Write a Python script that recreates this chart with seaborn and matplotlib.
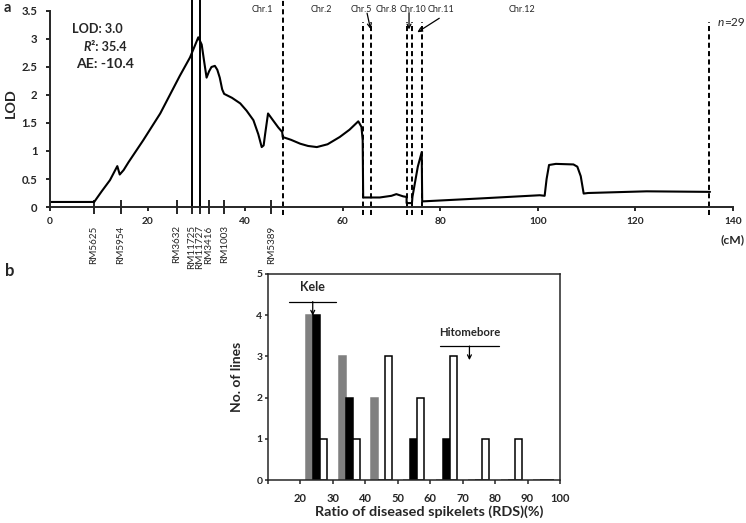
import numpy as np
import pandas as pd
import matplotlib
matplotlib.use("Agg")
import matplotlib.pyplot as plt
import seaborn as sns

# ---------------- Panel a data ----------------
lod_pos = [0, 9.06, 10.6, 12.3, 13.8, 14.3, 15.1, 16.1, 19.1, 22.6, 26.6, 28.7, 29.7, 30.4,
           31.1, 31.6, 32.1, 32.6, 33.1, 33.8, 34.3, 34.8, 35.3, 35.7, 37.3, 39.0, 40.3, 41.7,
           42.7, 43.4, 43.8, 44.1, 44.7, 45.7, 46.8, 47.6, 47.7, 49.4, 51.3, 52.9, 54.7, 56.9,
           59.4, 61.4, 63.2, 63.85, 64.1, 64.2, 67.6, 70.0, 71.0, 72.4, 73.1, 73.1, 74.2, 74.3,
           75.4, 76.2, 76.3, 87.6, 100.4, 101.4, 101.8, 102.3, 103.7, 107.3, 108.1, 108.8,
           109.4, 110.3, 122.3, 135.3]
lod_val = [0.09, 0.09, 0.28, 0.48, 0.73, 0.58, 0.66, 0.80, 1.19, 1.67, 2.34, 2.67, 2.88, 3.03,
           2.90, 2.60, 2.31, 2.42, 2.50, 2.52, 2.45, 2.31, 2.10, 2.02, 1.95, 1.85, 1.72, 1.55,
           1.30, 1.07, 1.10, 1.30, 1.67, 1.55, 1.42, 1.34, 1.25, 1.20, 1.13, 1.09, 1.07, 1.12,
           1.25, 1.38, 1.53, 1.43, 1.19, 0.17, 0.17, 0.20, 0.23, 0.19, 0.18, 0.07, 0.07, 0.18,
           0.72, 0.98, 0.10, 0.15, 0.21, 0.20, 0.50, 0.75, 0.77, 0.76, 0.72, 0.55,
           0.24, 0.25, 0.28, 0.27]

marker_names = ["RM5625", "RM5954", "RM3632", "RM11725", "RM11727", "RM3416", "RM1003", "RM5389"]
marker_pos = [9.0, 14.5, 26.0, 29.1, 30.7, 32.6, 35.7, 45.4]
flank_markers = ["RM11725", "RM11727"]

chr_bounds = [47.7, 64.1, 65.9, 73.1, 74.2, 76.3, 135.1]
chr_names = ["Chr.1", "Chr.2", "Chr.5", "Chr.8", "Chr.10", "Chr.11", "Chr.12"]
chr_label_pos = [43.6, 55.7, 63.9, 68.9, 74.4, 80.1, 96.7]

qtl_lod = 3.0
qtl_r2 = 35.4
qtl_ae = -10.4
n_lines = 29

# ---------------- Panel b data ----------------
rds_class = [20, 30, 40, 50, 60, 70, 80, 90]
genotype_names = ["Kele type", "Heterozygous", "Hitomebore type"]
kele_type_counts = [4, 3, 2, 0, 0, 0, 0, 0]
hetero_counts = [4, 2, 0, 1, 1, 0, 0, 0]
hito_type_counts = [1, 1, 3, 2, 3, 1, 1, 0]
parent_names = ["Kele", "Hitomebore"]
parent_mean = [23.8, 72.1]
parent_sd = [7.2, 9.1]

# ---------------- Style ----------------
sns.set_theme(style="ticks")
plt.rcParams["font.family"] = ["Lato", "DejaVu Sans"]
plt.rcParams["axes.linewidth"] = 1.4

fig = plt.figure(figsize=(7.46, 5.23), dpi=100)
axa = fig.add_axes([0.0670, 0.6042, 0.9155, 0.3748])
axb = fig.add_axes([0.3592, 0.0822, 0.3914, 0.3939])

# ---------------- Panel a ----------------
sns.lineplot(x=lod_pos, y=lod_val, ax=axa, sort=False, estimator=None,
             color="black", lw=1.5)
axa.set_xlim(0, 140)
axa.set_ylim(0, 3.5)
sns.despine(ax=axa)
for s in ["left", "bottom"]:
    axa.spines[s].set_linewidth(1.4)

yt = np.arange(0, 3.51, 0.5)
axa.set_yticks(yt)
axa.set_yticklabels([f"{v:g}" for v in yt], fontsize=9, fontweight="bold")
xt = np.arange(0, 141, 20)
axa.set_xticks(xt)
axa.set_xticklabels([f"{v:d}" for v in xt], fontsize=9, fontweight="bold")
axa.set_xticks(marker_pos, minor=True)
axa.set_xticklabels(marker_names, minor=True, rotation=90, fontsize=9,
                    fontweight="normal", va="top", ha="center")
axa.tick_params(axis="y", direction="out", length=3, width=1.4, pad=6)
axa.tick_params(axis="x", which="major", direction="out", length=3, width=1.4, pad=4.5)
axa.tick_params(axis="x", which="minor", direction="inout", length=9.4, width=1.4, pad=8.5)
axa.set_xlabel("")
lod_lab = axa.set_ylabel("LOD", fontsize=11, fontweight="bold")
axa.yaxis.set_label_coords(-0.048, 0.53)

# flanking marker lines
for name in flank_markers:
    p = marker_pos[marker_names.index(name)]
    axa.plot([p, p], [0, 3.70], color="black", lw=1.4, clip_on=False)

# chromosome boundaries
dash = (0, (2.6, 1.7))
for i, b in enumerate(chr_bounds):
    top = 3.72 if i == 0 else 3.31
    axa.plot([b, b], [-0.15, top], color="black", lw=1.4, ls=dash, clip_on=False)

chr_texts = []
for name, p in zip(chr_names, chr_label_pos):
    chr_texts.append(axa.text(p, 3.535, name, fontsize=7.5, ha="center", va="center"))

arrow_kw = dict(arrowstyle="->", lw=0.9, color="black", shrinkA=0, shrinkB=0,
                mutation_scale=7)
axa.annotate("", xy=(65.7, 3.18), xytext=(65.0, 3.46), arrowprops=arrow_kw, annotation_clip=False)
axa.annotate("", xy=(73.6, 3.17), xytext=(73.6, 3.47), arrowprops=arrow_kw, annotation_clip=False)
axa.annotate("", xy=(75.3, 3.12), xytext=(79.8, 3.37), arrowprops=arrow_kw, annotation_clip=False)

# QTL statistics
t_lod = axa.text(4.5, 3.18, f"LOD: {qtl_lod:.1f}", fontsize=10, fontweight="bold",
                 va="center", ha="left")
t_R = axa.text(6.8, 2.86, "R", fontsize=10, fontweight="bold", fontstyle="italic",
               va="center", ha="left")
t_R2 = axa.annotate(f"\u00b2: {qtl_r2:.1f}", xy=(1, 0), xycoords=t_R, va="bottom", ha="left",
                    fontsize=10, fontweight="bold")
t_ae = axa.text(5.3, 2.55, f"AE: {qtl_ae:.1f}", fontsize=10, fontweight="bold",
                va="center", ha="left")

t_n = axa.text(136.9, 3.30, "n", fontsize=9.5, fontstyle="italic", va="center", ha="left")
t_n2 = axa.annotate(f"={n_lines}", xy=(1, 0), xycoords=t_n, va="bottom", ha="left", fontsize=9.5)
t_cm = axa.text(140, -0.59, "(cM)", fontsize=9, fontweight="bold", ha="center", va="center")

# ---------------- Panel b ----------------
rows = []
for i, c in enumerate(rds_class):
    for g, counts in zip(genotype_names, [kele_type_counts, hetero_counts, hito_type_counts]):
        rows.append({"rds": c + 5, "genotype": g, "count": counts[i]})
df = pd.DataFrame(rows)

sns.barplot(data=df, x="rds", y="count", hue="genotype", hue_order=genotype_names,
            native_scale=True, width=0.65, gap=0, saturation=1,
            palette=["#808080", "#000000", "#ffffff"], legend=False, ax=axb)
edge_cols = ["#808080", "#000000", "#000000"]
for cont, ec in zip(axb.containers, edge_cols):
    for bar in cont:
        bar.set_edgecolor(ec)
        bar.set_linewidth(1.1)

axb.set_xlim(10, 100)
axb.set_ylim(0, 5)
bx = np.arange(10, 101, 10)
axb.set_xticks(bx)
axb.set_xticklabels(["" if v == 10 else f"{v:d}" for v in bx], fontsize=9.5, fontweight="bold")
axb.set_yticks(range(0, 6))
axb.set_yticklabels([str(v) for v in range(0, 6)], fontsize=7.5, fontweight="bold")
for s in axb.spines.values():
    s.set_linewidth(1.1)
axb.tick_params(axis="x", direction="out", length=3, width=1.1, pad=6)
axb.tick_params(axis="y", direction="out", length=2.5, width=1.1, pad=1.5)
xl = axb.set_xlabel("Ratio of diseased spikelets (RDS)(%)", fontsize=9, fontweight="bold")
axb.xaxis.set_label_coords(0.551, -0.125)
yl = axb.set_ylabel("No. of lines", fontsize=10, fontweight="bold")
axb.yaxis.set_label_coords(-0.085, 0.5)

# parent annotations
parent_label_y = [4.69, 3.58]
parent_line_y = [4.33, 3.25]
parent_texts = []
for name, m, sd, ty, ly in zip(parent_names, parent_mean, parent_sd,
                               parent_label_y, parent_line_y):
    axb.plot([m - sd, m + sd], [ly, ly], color="black", lw=0.9)
    axb.annotate("", xy=(m, ly - 0.34), xytext=(m, ly),
                 arrowprops=dict(arrowstyle="->", lw=0.9, color="black",
                                 shrinkA=0, shrinkB=0, mutation_scale=7))
    parent_texts.append(axb.text(m, ty, name, fontsize=9, fontweight="bold",
                                 ha="center", va="center"))

fa = fig.text(7 / 746, 1 - 8 / 523, "a", fontsize=10.5, fontweight="bold", ha="center", va="center")
fb = fig.text(10 / 746, 1 - 271 / 523, "b", fontsize=12, fontweight="bold", ha="center", va="center")

# ---------------- fit font sizes to the reference text extents (pixels) ----------------
fig.canvas.draw()
rend = fig.canvas.get_renderer()


def scale_for(t, target, rotated=False):
    bb = t.get_window_extent(rend)
    size = bb.height if rotated else bb.width
    return target / size


def fit(t, target, rotated=False):
    t.set_fontsize(t.get_fontsize() * scale_for(t, target, rotated))


fit(t_lod, 50)
fit(t_ae, 58)
k = t_lod.get_fontsize()
t_R.set_fontsize(k)
t_R2.set_fontsize(k)
for t in chr_texts:
    t.set_fontsize(chr_texts[0].get_fontsize() * scale_for(chr_texts[0], 21.5))
fit(t_cm, 24)
s_n = (t_n.get_window_extent(rend).width + t_n2.get_window_extent(rend).width)
t_n.set_fontsize(t_n.get_fontsize() * 27 / s_n)
t_n2.set_fontsize(t_n2.get_fontsize() * 27 / s_n)
fit(lod_lab, 30, rotated=True)
fit(xl, 228)
fit(yl, 70, rotated=True)
fit(parent_texts[0], 25)
fit(parent_texts[1], 61)

# tick labels
lab20 = axa.get_xticklabels()[1]
axa.tick_params(axis="x", which="major", labelsize=lab20.get_fontsize() * scale_for(lab20, 11.7))
lab35 = axa.get_yticklabels()[-1]
axa.tick_params(axis="y", labelsize=lab35.get_fontsize() * scale_for(lab35, 16))
labrm = axa.get_xticklabels(minor=True)[0]
axa.tick_params(axis="x", which="minor",
                labelsize=labrm.get_fontsize() * scale_for(labrm, 38, rotated=True))
lab100 = axb.get_xticklabels()[-1]
axb.tick_params(axis="x", labelsize=lab100.get_fontsize() * scale_for(lab100, 19.5))

fig.savefig("out.png", dpi=100)
